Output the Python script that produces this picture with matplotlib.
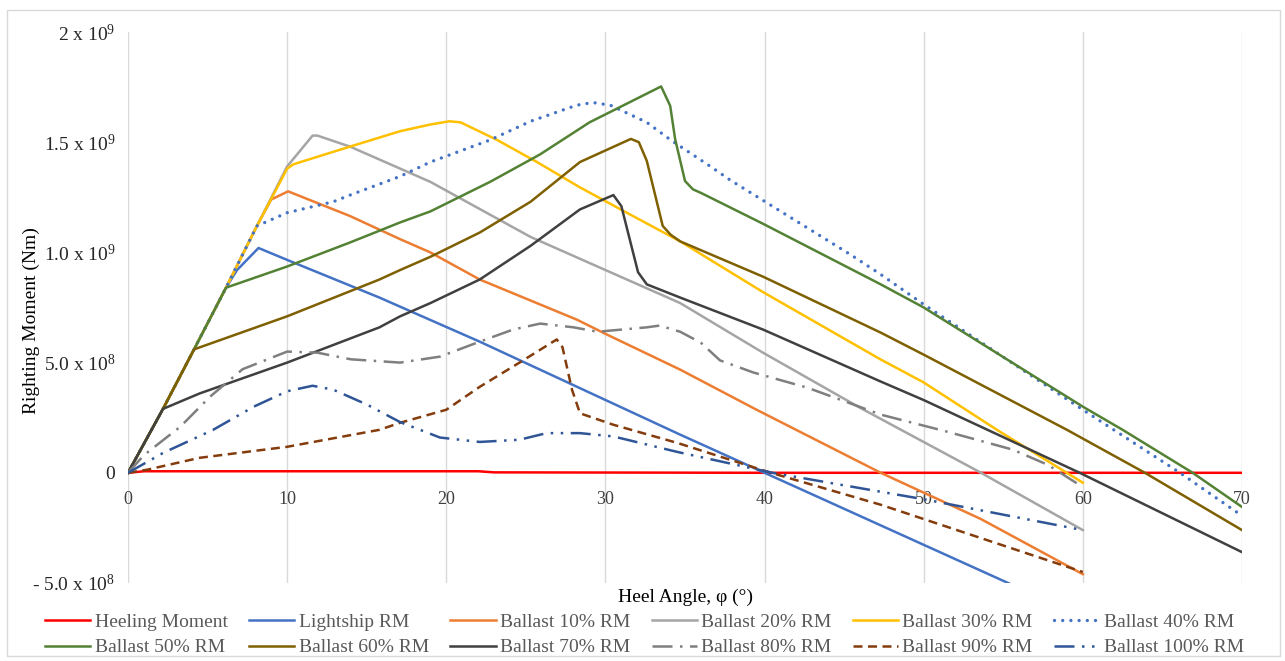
import matplotlib
matplotlib.use("Agg")
import matplotlib.pyplot as plt
from matplotlib.patches import Rectangle
import numpy as np

plt.rcParams['font.family'] = ['Liberation Serif', 'DejaVu Serif']
plt.rcParams['mathtext.fontset'] = 'custom'
plt.rcParams['mathtext.rm'] = 'Liberation Serif'
plt.rcParams['mathtext.it'] = 'Liberation Serif:italic'

# ---- data (moments in units of 1e9 Nm, angles in degrees) ----
heeling_ang = [0, 1, 22, 23, 40, 70]
heeling_val = [0.0, 0.007, 0.007, 0.002, 0.0, 0.0]

light_ang = [0, 2.2, 4.15, 6.16, 6.85, 8.2, 10, 15.8, 22.1, 34.7, 40, 55.3, 60]
light_val = [0, 0.29, 0.56, 0.84, 0.92, 1.02, 0.966, 0.795, 0.595, 0.173, 0.0, -0.50, -0.655]

b10_ang = [0, 2.2, 4.15, 6.16, 8.1, 9.0, 10.06, 13.95, 17.1, 19.0, 22.1, 28.2, 30.1, 34.7, 39.5, 47.3, 53.6, 60]
b10_val = [0, 0.29, 0.56, 0.84, 1.12, 1.24, 1.277, 1.165, 1.06, 1.0, 0.877, 0.695, 0.627, 0.468, 0.286, 0.0, -0.21, -0.46]

b20_ang = [0, 2.2, 4.15, 6.16, 8.1, 10, 11.6, 11.9, 13.95, 19.0, 25.3, 30.0, 34.7, 39.9, 46.0, 53.6, 60]
b20_val = [0, 0.29, 0.56, 0.84, 1.12, 1.39, 1.53, 1.53, 1.48, 1.32, 1.07, 0.92, 0.77, 0.545, 0.295, 0.0, -0.26]

b30_ang = [0, 2.2, 4.15, 6.16, 8.1, 10, 10.4, 13.95, 17.1, 18.98, 20.2, 20.9, 23.2, 25.7, 28.4, 31.6, 34.7, 39.9, 47.3, 50, 54.6, 60]
b30_val = [0, 0.29, 0.56, 0.84, 1.12, 1.38, 1.40, 1.48, 1.55, 1.58, 1.595, 1.59, 1.51, 1.41, 1.295, 1.17, 1.05, 0.82, 0.514, 0.41, 0.195, -0.045]

b40_ang = [0, 2.2, 4.15, 6.16, 8.1, 10, 12.9, 13.95, 17.1, 19.0, 22.75, 25.3, 28.2, 29.2, 30.3, 32.6, 34.1, 36.6, 37.8, 45.4, 47.3, 50, 60, 66.1, 70]
b40_val = [0, 0.29, 0.56, 0.84, 1.12, 1.18, 1.23, 1.26, 1.345, 1.41, 1.51, 1.595, 1.668, 1.68, 1.668, 1.59, 1.51, 1.39, 1.33, 0.99, 0.90, 0.764, 0.286, 0.0, -0.195]

b50_ang = [0, 2.2, 4.15, 6.16, 10, 13.95, 17.1, 19.0, 22.75, 25.9, 29.0, 33.5, 34.07, 34.38, 35.0, 35.5, 36.0, 39.9, 47.3, 50, 60, 62.5, 66.9, 70]
b50_val = [0, 0.29, 0.56, 0.84, 0.936, 1.045, 1.136, 1.186, 1.32, 1.445, 1.59, 1.753, 1.665, 1.514, 1.324, 1.286, 1.27, 1.13, 0.855, 0.75, 0.30, 0.195, 0.0, -0.155]

b60_ang = [0, 2.2, 4.15, 10, 15.8, 17.1, 19.0, 22.1, 25.3, 28.4, 31.6, 32.1, 32.6, 33.6, 34.1, 34.7, 39.9, 47.3, 50, 59, 63.9, 70]
b60_val = [0, 0.29, 0.56, 0.71, 0.877, 0.92, 0.98, 1.09, 1.23, 1.41, 1.515, 1.50, 1.415, 1.12, 1.08, 1.05, 0.89, 0.636, 0.536, 0.195, 0.0, -0.26]

b70_ang = [0, 2.2, 4.5, 10, 15.8, 17.1, 19.0, 22.1, 25.3, 28.4, 30.5, 31.0, 32.05, 32.6, 34.7, 39.9, 47.3, 50, 59.8, 70]
b70_val = [0, 0.29, 0.36, 0.50, 0.66, 0.71, 0.77, 0.877, 1.03, 1.195, 1.26, 1.21, 0.91, 0.855, 0.795, 0.65, 0.414, 0.33, 0.0, -0.36]

b80_ang = [0, 1, 3.3, 5.15, 7.2, 10, 11.9, 14, 17.1, 19.6, 22.1, 24.2, 25.9, 28.0, 29.5, 32.6, 33.4, 34.7, 36, 37.2, 39.3, 42.7, 45.2, 47.3, 51.5, 55.6, 57.8, 60]
b80_val = [0, 0.08, 0.21, 0.345, 0.47, 0.55, 0.545, 0.515, 0.50, 0.527, 0.595, 0.65, 0.677, 0.66, 0.64, 0.66, 0.668, 0.64, 0.59, 0.51, 0.455, 0.386, 0.32, 0.264, 0.186, 0.105, 0.036, -0.065]

b90_ang = [0, 1.2, 4.5, 10, 15.8, 17.1, 20, 22.1, 24.6, 26.94, 27.3, 27.9, 28.4, 30.5, 34.5, 40.4, 47.3, 60]
b90_val = [0, 0.014, 0.068, 0.118, 0.195, 0.227, 0.286, 0.39, 0.50, 0.605, 0.57, 0.377, 0.27, 0.218, 0.136, 0.0, -0.145, -0.45]

b100_ang = [0, 2.2, 5.35, 7.9, 10, 11.6, 12.9, 15, 17.1, 19.6, 22.1, 24.6, 26.3, 28.4, 30.5, 34.5, 40.5, 47.3, 50, 60]
b100_val = [0, 0.09, 0.195, 0.30, 0.37, 0.395, 0.377, 0.31, 0.23, 0.16, 0.14, 0.15, 0.18, 0.18, 0.165, 0.095, 0.0, -0.086, -0.12, -0.26]

series_names = ["Heeling Moment", "Lightship RM", "Ballast 10% RM", "Ballast 20% RM",
                "Ballast 30% RM", "Ballast 40% RM", "Ballast 50% RM", "Ballast 60% RM",
                "Ballast 70% RM", "Ballast 80% RM", "Ballast 90% RM", "Ballast 100% RM"]
series_ang = [heeling_ang, light_ang, b10_ang, b20_ang, b30_ang, b40_ang,
              b50_ang, b60_ang, b70_ang, b80_ang, b90_ang, b100_ang]
series_val = [heeling_val, light_val, b10_val, b20_val, b30_val, b40_val,
              b50_val, b60_val, b70_val, b80_val, b90_val, b100_val]

x_ticks = [0, 10, 20, 30, 40, 50, 60, 70]
y_ticks = [-0.5e9, 0, 0.5e9, 1.0e9, 1.5e9, 2.0e9]
y_tick_labels = [r"- 5.0 x 10$^{8}$", "0", r"5.0 x 10$^{8}$", r"1.0 x 10$^{9}$",
                 r"1.5 x 10$^{9}$", r"2 x 10$^{9}$"]

# ---- styles ----
styles = [
    dict(color="#FF0000", lw=1.8, ls="-"),
    dict(color="#4472C4", lw=1.8, ls="-"),
    dict(color="#ED7D31", lw=1.8, ls="-"),
    dict(color="#A5A5A5", lw=1.8, ls="-"),
    dict(color="#FFC000", lw=1.8, ls="-"),
    dict(color="#4472C4", lw=2.4, ls=(0, (0.01, 2.45)), dash_capstyle="round"),
    dict(color="#548235", lw=1.8, ls="-"),
    dict(color="#7F6000", lw=1.8, ls="-"),
    dict(color="#404040", lw=1.8, ls="-"),
    dict(color="#7F7F7F", lw=1.8, ls=(0, (8, 3, 1, 3))),
    dict(color="#843C0C", lw=1.8, ls=(0, (3.6, 2.2))),
    dict(color="#2F5597", lw=1.8, ls=(0, (8, 3, 1, 3, 1, 3))),
]

W, H = 1285, 661
fig = plt.figure(figsize=(W / 100, H / 100), dpi=100)
fig.patches.append(Rectangle((7 / W, 5 / H), 1273 / W, 646 / H, transform=fig.transFigure,
                             fill=False, edgecolor="#d9d9d9", lw=1.0))
ax = fig.add_axes([128 / W, (H - 583) / H, (1242 - 128) / W, (583 - 32) / H])

handles = []
for name, a, v, st in zip(series_names, series_ang, series_val, styles):
    st = dict(st)
    ls = st.pop("ls")
    h, = ax.plot(a, np.array(v) * 1e9, linestyle=ls, label=name, **st)
    handles.append(h)

ax.set_xlim(0, 70)
ax.set_ylim(-0.5e9, 2.0e9)
ax.set_xticks(x_ticks)
ax.set_yticks(y_ticks)
ax.set_yticklabels(y_tick_labels)
ax.grid(axis="x", color="#d9d9d9", lw=1.0)
ax.set_axisbelow(True)
for s in ["top", "right", "left"]:
    ax.spines[s].set_visible(False)
ax.spines["bottom"].set_position(("data", 0))
ax.spines["bottom"].set_color("none")
ax.tick_params(axis="x", length=0, pad=13, labelsize=13, labelcolor="#404040")
ax.tick_params(axis="y", length=0, pad=9, labelsize=14, labelcolor="#262626")

ax.set_xlabel("Heel Angle, φ (°)", fontsize=14, color="black")
ax.xaxis.label.set_va("center")
ax.xaxis.set_label_coords(0.5, (583 - 597) / 551)
ax.set_ylabel("Righting Moment (Nm)", fontsize=14, color="black")
ax.yaxis.label.set_va("center")
ax.yaxis.set_label_coords((31 - 128) / 1114, (583 - 321) / 551)

order = [0, 6, 1, 7, 2, 8, 3, 9, 4, 10, 5, 11]
leg = fig.legend([handles[i] for i in order], [series_names[i] for i in order],
                 ncol=6, loc="upper left", bbox_to_anchor=(45 / W, 1 - 613 / H),
                 frameon=False, fontsize=14, handlelength=2.33, handletextpad=0.22,
                 columnspacing=1.1, labelspacing=0.42, borderpad=0, borderaxespad=0)
for t in leg.get_texts():
    t.set_color("#595959")

fig.savefig("out.png", dpi=100)
